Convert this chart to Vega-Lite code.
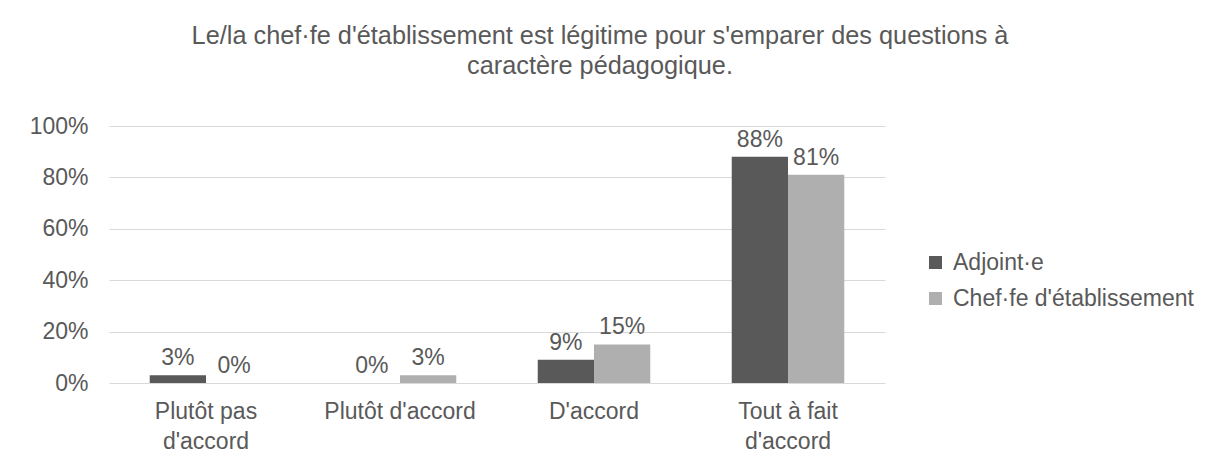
{
  "$schema": "https://vega.github.io/schema/vega-lite/v6.json",
  "width": 776,
  "height": 257,
  "autosize": {"type": "none"},
  "padding": {"left": 109, "top": 126, "right": 324, "bottom": 80},
  "background": "white",
  "config": {
    "font": "Liberation Sans",
    "view": {"stroke": null},
    "axis": {"labelColor": "#595959", "labelFont": "Liberation Sans", "labelFontSize": 23, "domain": false, "ticks": false, "title": null}
  },
  "title": {
    "text": ["Le/la chef·fe d'établissement est légitime pour s'emparer des questions à", "caractère pédagogique."],
    "font": "Liberation Sans",
    "fontSize": 25.3,
    "fontWeight": "normal",
    "color": "#595959",
    "anchor": "middle",
    "frame": "group",
    "dx": 103,
    "lineHeight": 30,
    "offset": 36
  },
  "data": {
    "values": [
      {"categorie": "Plutôt pas d'accord", "groupe": "Adjoint·e", "valeur": 0.03},
      {"categorie": "Plutôt pas d'accord", "groupe": "Chef·fe d'établissement", "valeur": 0.0},
      {"categorie": "Plutôt d'accord", "groupe": "Adjoint·e", "valeur": 0.0},
      {"categorie": "Plutôt d'accord", "groupe": "Chef·fe d'établissement", "valeur": 0.03},
      {"categorie": "D'accord", "groupe": "Adjoint·e", "valeur": 0.09},
      {"categorie": "D'accord", "groupe": "Chef·fe d'établissement", "valeur": 0.15},
      {"categorie": "Tout à fait d'accord", "groupe": "Adjoint·e", "valeur": 0.88},
      {"categorie": "Tout à fait d'accord", "groupe": "Chef·fe d'établissement", "valeur": 0.81}
    ]
  },
  "encoding": {
    "x": {
      "field": "categorie",
      "type": "nominal",
      "sort": ["Plutôt pas d'accord", "Plutôt d'accord", "D'accord", "Tout à fait d'accord"],
      "scale": {"paddingInner": 0.42, "paddingOuter": 0.21},
      "axis": {
        "labelAngle": 0,
        "labelPadding": 17,
        "labelLineHeight": 30,
        "labelExpr": "datum.value == \"Plutôt pas d'accord\" ? [\"Plutôt pas\", \"d'accord\"] : datum.value == \"Tout à fait d'accord\" ? [\"Tout à fait\", \"d'accord\"] : datum.value"
      }
    },
    "xOffset": {
      "field": "groupe",
      "type": "nominal",
      "sort": ["Adjoint·e", "Chef·fe d'établissement"],
      "scale": {"paddingInner": 0, "paddingOuter": 0}
    },
    "y": {
      "field": "valeur",
      "type": "quantitative",
      "scale": {"domain": [0, 1], "nice": false},
      "axis": {"format": ".0%", "values": [0, 0.2, 0.4, 0.6, 0.8, 1], "labelPadding": 21, "grid": true, "gridColor": "#d9d9d9", "gridWidth": 1}
    }
  },
  "layer": [
    {
      "mark": {"type": "bar"},
      "encoding": {
        "color": {
          "field": "groupe",
          "type": "nominal",
          "scale": {"domain": ["Adjoint·e", "Chef·fe d'établissement"], "range": ["#595959", "#afafaf"]},
          "legend": {
            "title": null,
            "orient": "none",
            "legendX": 815,
            "legendY": 125,
            "symbolType": "square",
            "symbolSize": 169,
            "symbolStrokeWidth": 0,
            "symbolOpacity": 1,
            "labelFont": "Liberation Sans",
            "labelFontSize": 23,
            "labelColor": "#595959",
            "labelOffset": 6,
            "rowPadding": 12,
            "labelLimit": 400
          }
        }
      }
    },
    {
      "mark": {"type": "text", "baseline": "bottom", "dy": -5, "font": "Liberation Sans", "fontSize": 23, "color": "#595959"},
      "encoding": {
        "text": {"field": "valeur", "type": "quantitative", "format": ".0%"}
      }
    }
  ]
}
